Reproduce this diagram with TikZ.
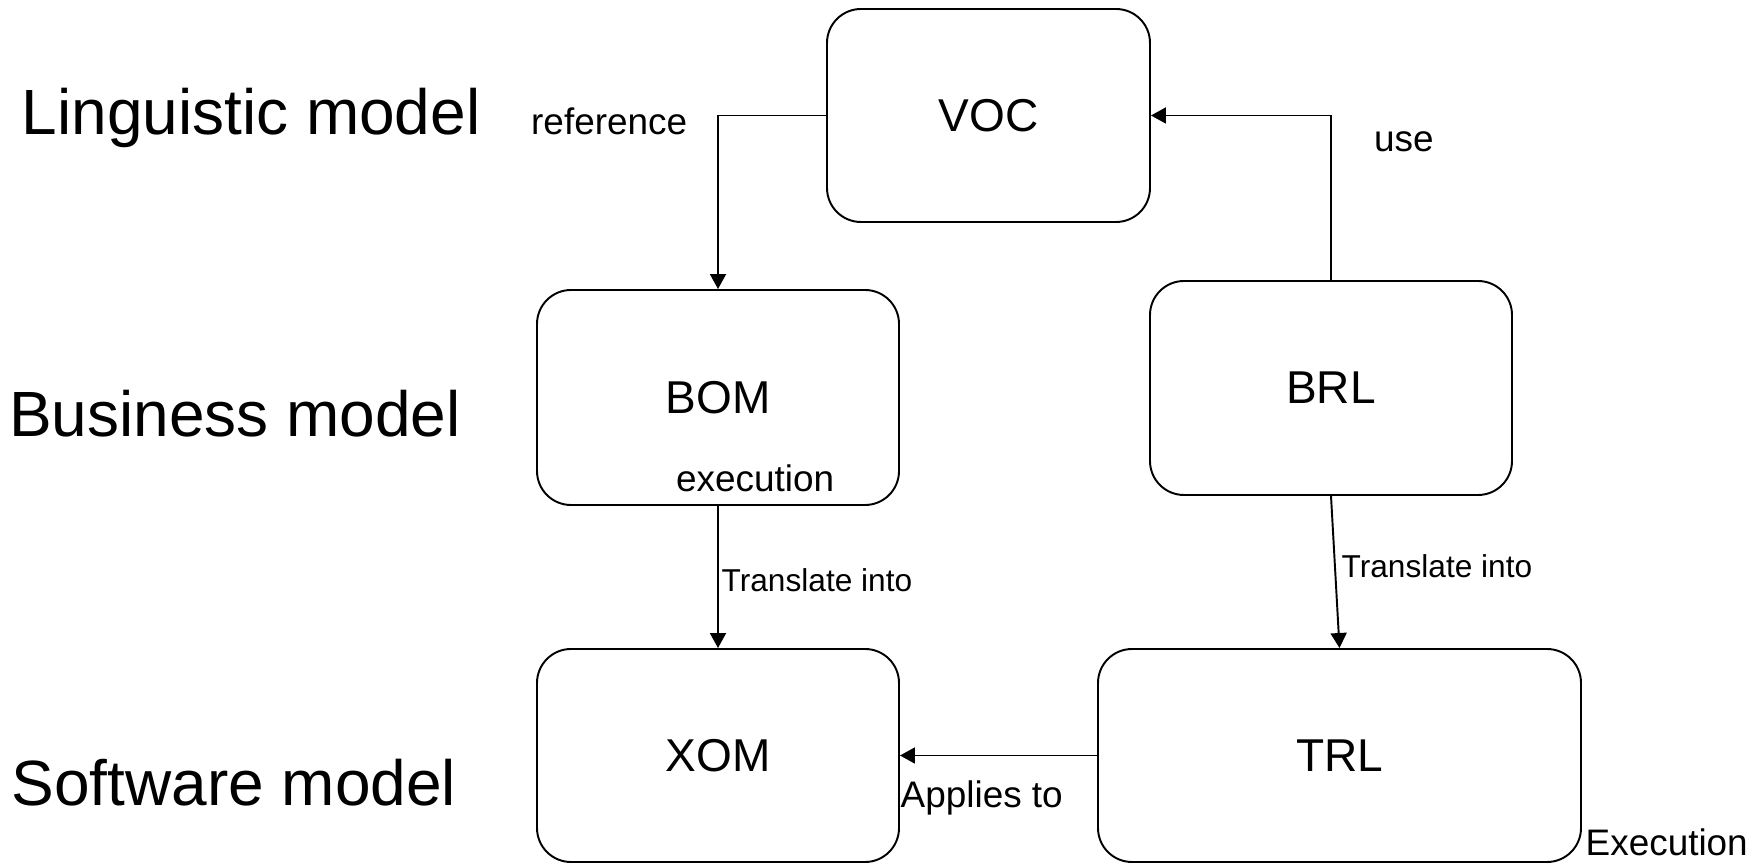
\documentclass[tikz,border=0pt]{standalone}
\usepackage{fontspec}
\setmainfont{Liberation Sans}
\usetikzlibrary{arrows.meta}

\tikzstyle{modelbox}=[draw=black,line width=0.55pt,rounded corners=0.34cm,minimum height=2.13cm,inner sep=0pt,font=\fontsize{13.1}{15}\selectfont]
\tikzstyle{layername}=[anchor=base west,inner sep=0pt,font=\fontsize{18.2}{21}\selectfont]
\tikzstyle{lbl}=[anchor=base west,inner sep=0pt,font=\fontsize{10.5}{12}\selectfont]
\tikzstyle{lblsmall}=[anchor=base west,inner sep=0pt,font=\fontsize{9.0}{10}\selectfont]
\tikzstyle{flow}=[draw=black,line width=0.55pt,-{Triangle[length=0.15cm,width=0.16cm]}]

\begin{document}
\begin{tikzpicture}[scale=1.0]

   \useasboundingbox (0,0) rectangle (17.58,8.63);

   % the three layers
   \node[layername] (ling) at (0.21,7.28) {Linguistic model};
   \node[layername] (busi) at (0.085,4.26) {Business model};
   \node[layername] (soft) at (0.11,0.57) {Software model};

   % model boxes
   \node[modelbox,minimum width=3.23cm] (voc) at (9.885,7.475) {VOC};
   \node[modelbox,minimum width=3.62cm,minimum height=2.15cm] (bom) at (7.18,4.655) {BOM};
   \node[modelbox,minimum width=3.62cm,minimum height=2.14cm] (brl) at (13.31,4.75) {BRL};
   \node[modelbox,minimum width=3.62cm] (xom) at (7.18,1.075) {XOM};
   \node[modelbox,minimum width=4.83cm] (trl) at (13.395,1.075) {TRL};

   \draw[flow] (voc.west) -| (bom.north);
   \draw[flow] (brl.north) |- (voc.east);
   \draw[flow] (bom.south) -- (xom.north);
   \draw[flow] (brl.south) -- (trl.north);
   \draw[flow] (trl.west) -- (xom.east);

   % labels
   \node[lbl] (refl) at (5.305,7.28) {reference};
   \node[lbl] (usel) at (13.735,7.11) {use};
   \node[lbl] (exel) at (6.755,3.71) {execution};
   \node[lblsmall] (tr1) at (7.21,2.71) {Translate into};
   \node[lblsmall] (tr2) at (13.41,2.85) {Translate into};
   \node[lbl] (appl) at (9.00,0.55) {Applies to};
   \node[lbl] (exe2) at (15.85,0.08) {Execution};

\end{tikzpicture}
\end{document}
